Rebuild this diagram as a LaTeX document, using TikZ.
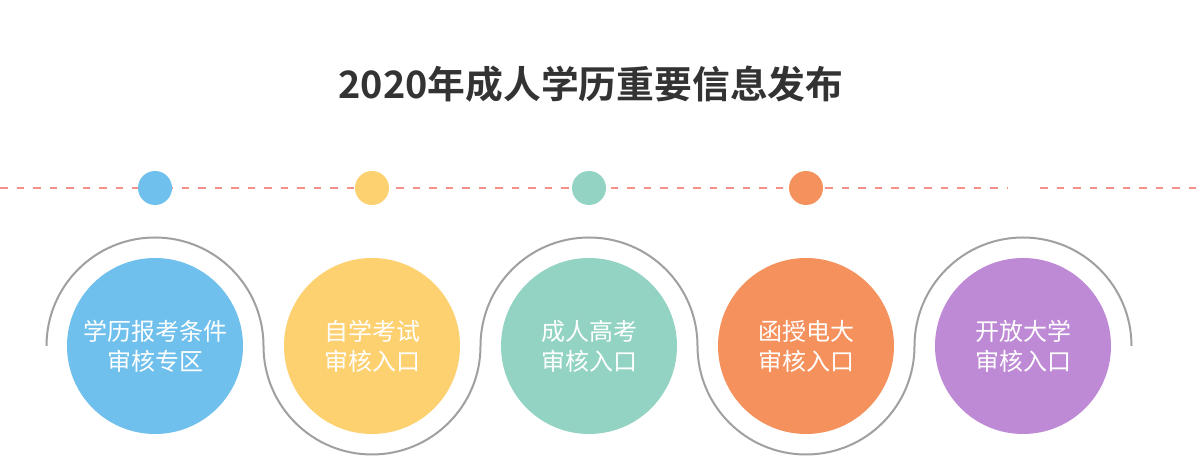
\documentclass[tikz,border=0pt]{standalone}
\usepackage{fontspec}
\setmainfont{Noto Sans CJK SC}[BoldFont={Noto Sans CJK SC Bold}]
\definecolor{cblue}{HTML}{6FC0EC}
\definecolor{cyellow}{HTML}{FDD070}
\definecolor{cteal}{HTML}{92D3C3}
\definecolor{corange}{HTML}{F5915C}
\definecolor{cpurple}{HTML}{BE8AD5}
\definecolor{dashc}{HTML}{F29089}
\definecolor{arcc}{HTML}{A0A0A0}
\definecolor{titlec}{HTML}{333333}
\tikzset{
  bigcirc/.style={circle, minimum size=176pt, inner sep=0pt, draw=none, text=white, align=center, font=\fontsize{24}{30}\selectfont},
  dotc/.style={circle, minimum size=34pt, inner sep=0pt, draw=none},
  dashline/.style={draw=dashc, line width=2.5pt, dash pattern=on 7.5pt off 9pt},
  swirl/.style={draw=arcc, line width=2pt},
}
\begin{document}
\begin{tikzpicture}[x=1pt,y=1pt]
\useasboundingbox (0,0) rectangle (1200,470);
\fill[white] (0,0) rectangle (1200,470);
\node[font=\bfseries\fontsize{37.8}{45}\selectfont, text=titlec] (title) at (591,386) {2020年成人学历重要信息发布};
% dashed line
\draw[dashline] (0,282) -- (1008,282);
\draw[dashline] (1040,282) -- (1200,282);
% dots
\node[dotc, fill=cblue] (d1) at (155,282) {};
\node[dotc, fill=cyellow] (d2) at (372,282) {};
\node[dotc, fill=cteal] (d3) at (589,282) {};
\node[dotc, fill=corange] (d4) at (806,282) {};
% swirl
\draw[swirl] (46.5,124) arc (180:0:108.5) arc (180:360:108.5) arc (180:0:108.5) arc (180:360:108.5) arc (180:0:108.5);
% circles
\node[bigcirc, fill=cblue] (c1) at (155,124) {学历报考条件\\审核专区};
\node[bigcirc, fill=cyellow] (c2) at (372,124) {自学考试\\审核入口};
\node[bigcirc, fill=cteal] (c3) at (589,124) {成人高考\\审核入口};
\node[bigcirc, fill=corange] (c4) at (806,124) {函授电大\\审核入口};
\node[bigcirc, fill=cpurple] (c5) at (1023,124) {开放大学\\审核入口};
\end{tikzpicture}
\end{document}
